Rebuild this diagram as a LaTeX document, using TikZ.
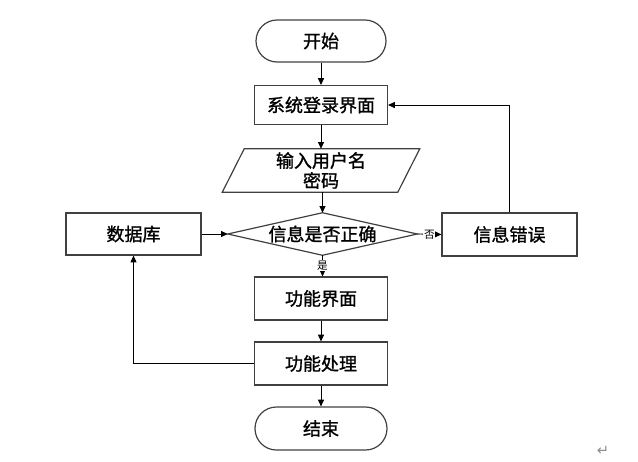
\documentclass[tikz,border=0pt]{standalone}
\usepackage{fontspec}
\newfontfamily\cjk[FakeBold=1.2]{Noto Sans CJK SC}
\newfontfamily\cjklight{Noto Sans CJK SC}
\newfontfamily\dejavu{DejaVu Sans}
\usetikzlibrary{arrows.meta,calc}
\begin{document}
\begin{tikzpicture}[x=0.75pt,y=-0.75pt,
  txt/.style={font=\cjk\fontsize{13.5}{16}\selectfont},
  box/.style={txt, draw=black!75, line width=0.9pt, minimum width=99.75pt, minimum height=31.5pt, inner sep=0pt},
  term/.style={box, rounded corners=15.75pt},
  shapeline/.style={draw=black!75, line width=0.9pt},
  arr/.style={-{Triangle[length=5pt,width=4.5pt]}, line width=0.6pt},
  lbl/.style={fill=white, inner sep=0.6pt, font=\cjklight\fontsize{8}{9}\selectfont}]
\useasboundingbox (0,0) rectangle (638,461);
\node[term, minimum width=97.5pt] (start) at (321,41) {开始};
\node[box, minimum height=29.25pt] (login) at (321,105) {系统登录界面};
\node[txt, minimum width=147.75pt, minimum height=32.25pt, inner sep=0pt, align=center] (io) at (321,170.5) {输入用户名\\[-1pt]密码};
\draw[shapeline] (io.south west) -- ([xshift=16.5pt]io.north west) -- (io.north east) -- ([xshift=-16.5pt]io.south east) -- cycle;
\node[txt, minimum width=141.75pt, minimum height=31.5pt, inner sep=0pt] (dec) at (322.5,234) {信息是否正确};
\draw[shapeline] (dec.west) -- (dec.north) -- (dec.east) -- (dec.south) -- cycle;
\node[box, minimum width=101.25pt] (db) at (133.5,234) {数据库};
\node[box, minimum width=101.25pt, minimum height=32.25pt] (err) at (509.5,234.5) {信息错误};
\node[box, minimum height=32.25pt] (func) at (321,298.5) {功能界面};
\node[box, minimum height=32.25pt] (proc) at (321,363.5) {功能处理};
\node[term, minimum width=99pt, minimum height=32.25pt, rounded corners=16.1pt] (end) at (321,428.5) {结束};

\draw[arr] (start) -- (login);
\draw[arr] (login) -- (login.south |- io.north);
\draw[arr] (io.south -| dec.north) -- (dec.north);
\draw[arr] (dec.south) -- node[lbl] {是} (dec.south |- func.north);
\draw[arr] (dec.east) -- node[lbl] {否} (err.west);
\draw[arr] (err.north) |- (login.east);
\draw[arr] (db.east) -- (dec.west);
\draw[arr] (proc.west) -| (db.south);
\draw[arr] (func) -- (proc);
\draw[arr] (proc) -- (end);
\node[font=\dejavu\fontsize{11}{12}\selectfont, text=black!45, inner sep=0pt] (ret) at (603,451) {↵};
\end{tikzpicture}
\end{document}
